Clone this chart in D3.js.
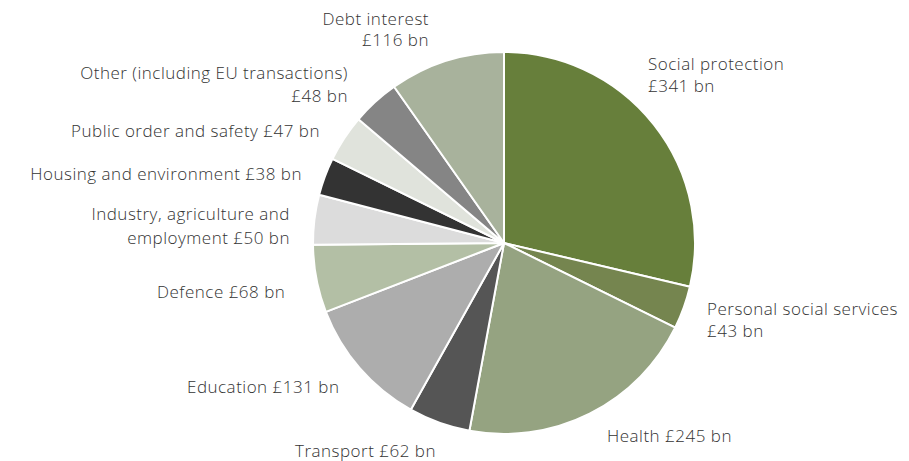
<!DOCTYPE html>
<html>
<head>
<meta charset="utf-8">
<script src="https://cdn.jsdelivr.net/npm/d3@7"></script>
<style>
  html, body { margin: 0; padding: 0; background: #ffffff; }
  svg { display: block; }
  text { font-family: "Open Sans", sans-serif; font-size: 17px; font-weight: 300; fill: #333333; letter-spacing: 0.5px; }
</style>
</head>
<body>
<svg id="chart" width="909" height="461"></svg>
<script>
const categories = [
  "Social protection", "Personal social services", "Health", "Transport",
  "Education", "Defence", "Industry, agriculture and employment",
  "Housing and environment", "Public order and safety",
  "Other (including EU transactions)", "Debt interest"
];
const values = [341, 43, 245, 62, 131, 68, 50, 38, 47, 48, 116];
const colors = [
  "#677f3b", "#75854f", "#95a381", "#555555", "#adadad", "#b3bfa5",
  "#dcdcdc", "#333333", "#e0e3dc", "#858585", "#a8b29c"
];
// label lines (text content)
const labelLines = [
  ["Social protection", "£341 bn"],
  ["Personal social services", "£43 bn"],
  ["Health £245 bn"],
  ["Transport £62 bn"],
  ["Education £131 bn"],
  ["Defence £68 bn"],
  ["Industry, agriculture and", "employment £50 bn"],
  ["Housing and environment £38 bn"],
  ["Public order and safety £47 bn"],
  ["Other (including EU transactions)", "£48 bn"],
  ["Debt interest", "£116 bn"]
];
// label layout: [x, y of first baseline, anchor, line gap]
const labelLayout = [
  [648, 70, "start", 22],
  [707, 315, "start", 22],
  [607, 442, "start", 22],
  [295, 457, "start", 22],
  [187, 393, "start", 22],
  [157, 298, "start", 22],
  [290, 220, "end", 24],
  [302, 180, "end", 22],
  [320, 137, "end", 22],
  [348, 79, "end", 23],
  [429, 25, "end", 21]
];

const svg = d3.select("#chart");
const cx = 504, cy = 243, radius = 191;

const data = categories.map((c, i) => ({ name: c, value: values[i], color: colors[i], lines: labelLines[i], layout: labelLayout[i] }));

const pie = d3.pie().sort(null).value(d => d.value);
const arc = d3.arc().innerRadius(0).outerRadius(radius);

const g = svg.append("g").attr("transform", `translate(${cx},${cy})`);
g.selectAll("path")
  .data(pie(data))
  .join("path")
  .attr("d", arc)
  .attr("fill", d => d.data.color)
  .attr("stroke", "#ffffff")
  .attr("stroke-width", 2)
  .attr("stroke-linejoin", "round");

const labels = svg.append("g");
data.forEach(d => {
  const [x, y, anchor, gap] = d.layout;
  const t = labels.append("text").attr("text-anchor", anchor);
  d.lines.forEach((ln, j) => {
    t.append("tspan").attr("x", x).attr("y", y + j * gap).text(ln);
  });
});
</script>
</body>
</html>
